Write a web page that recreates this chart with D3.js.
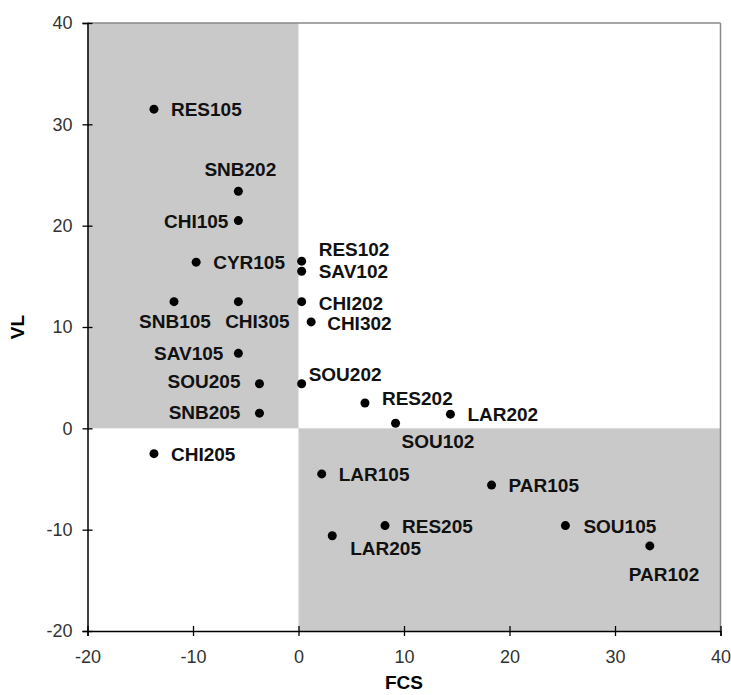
<!DOCTYPE html>
<html><head><meta charset="utf-8">
<script src="https://cdn.jsdelivr.net/npm/d3@7/dist/d3.min.js"></script>
<style>body{margin:0;background:#fff}</style>
</head><body>
<svg id="chart" width="731" height="695"></svg>
<script>
// ---- data ----
const names = ["RES105","SNB202","CHI105","CYR105","SNB105","CHI305","SAV105","SOU205","SNB205","CHI205",
               "RES102","SAV102","CHI202","CHI302","SOU202","RES202","LAR202","SOU102","LAR105","PAR105",
               "RES205","LAR205","SOU105","PAR102"];
const fcs = [-13.7,-5.7,-5.7,-9.7,-11.8,-5.7,-5.7,-3.7,-3.7,-13.7,
             0.3,0.3,0.3,1.2,0.3,6.3,14.4,9.2,2.2,18.3,
             8.2,3.2,25.3,33.3];
const vl = [31.5,23.4,20.5,16.4,12.5,12.5,7.4,4.4,1.5,-2.5,
            16.5,15.5,12.5,10.5,4.4,2.5,1.4,0.5,-4.5,-5.6,
            -9.6,-10.6,-9.6,-11.6];
const xTicks = [-20,-10,0,10,20,30,40];
const yTicks = [-20,-10,0,10,20,30,40];
const xTitle = "FCS", yTitle = "VL";

// ---- layout (label placement: anchor, dx, dy) ----
const labelPlacement = [
  ["start",17,7],["middle",2,-15],["end",-10,7],["start",17,7],["middle",1,26],["middle",19,26],
  ["end",-15,7],["end",-19,4],["end",-19,6],["start",17,7],
  ["start",17,-5],["start",17,7],["start",17,8],["start",16,8],["start",7,-3],["start",17,2],
  ["start",17,7],["start",6,25],["start",17,7],["start",17,7],
  ["start",17,7],["start",18,19],["start",18,7],["start",-21,35]
];

const svg = d3.select("#chart");
const L = 87.5, R = 720.5, T = 23, B = 631;
const x = d3.scaleLinear().domain([-20,40]).range([L,R]);
const y = d3.scaleLinear().domain([-20,40]).range([B,T]);

// shaded quadrants
svg.append("rect").attr("x",x(-20)).attr("y",y(40)).attr("width",x(0)-x(-20)).attr("height",y(0)-y(40)).attr("fill","#c9c9c9");
svg.append("rect").attr("x",x(0)).attr("y",y(0)).attr("width",x(40)-x(0)).attr("height",y(-20)-y(0)).attr("fill","#c9c9c9");

// plot border top/right
svg.append("line").attr("x1",L).attr("x2",R).attr("y1",T).attr("y2",T).attr("stroke","#8a8a8a").attr("stroke-width",1.5);
svg.append("line").attr("x1",R).attr("x2",R).attr("y1",T).attr("y2",B).attr("stroke","#8a8a8a").attr("stroke-width",1.5);

// axes
const fmt = d => String(d);
const xAxis = d3.axisBottom(x).tickValues(xTicks).tickSize(5).tickPadding(14).tickFormat(fmt);
const gx = svg.append("g").attr("transform",`translate(0,${B})`).call(xAxis);
gx.selectAll(".tick line").attr("y1",-5).attr("y2",5);
const yAxis = d3.axisLeft(y).tickValues(yTicks).tickSize(5).tickPadding(10).tickFormat(fmt);
const gy = svg.append("g").attr("transform",`translate(${L},0)`).call(yAxis);
gy.selectAll(".tick line").attr("x1",-5).attr("x2",5);
[gx,gy].forEach(g=>{
  g.select(".domain").attr("stroke","#000").attr("stroke-width",1.5);
  g.selectAll(".tick line").attr("stroke","#000").attr("stroke-width",1.3);
  g.selectAll(".tick text").attr("font-family","Liberation Sans, Arial, sans-serif").attr("font-size",18).attr("fill","#333");
});
gx.selectAll(".tick text").attr("dy","0.71em");

// axis titles
svg.append("text").attr("x",(L+R)/2).attr("y",689).attr("text-anchor","middle")
  .attr("font-family","Liberation Sans, Arial, sans-serif").attr("font-weight","bold").attr("font-size",19).text(xTitle);
svg.append("text").attr("transform",`translate(24,${(T+B)/2}) rotate(-90)`).attr("text-anchor","middle")
  .attr("font-family","Liberation Sans, Arial, sans-serif").attr("font-weight","bold").attr("font-size",19).text(yTitle);

// points
const pts = names.map((n,i)=>({name:n,fx:fcs[i],vy:vl[i],lp:labelPlacement[i]}));
svg.append("g").selectAll("circle").data(pts).join("circle")
  .attr("cx",d=>x(d.fx)).attr("cy",d=>y(d.vy)).attr("r",4.5).attr("fill","#000");
svg.append("g").selectAll("text").data(pts).join("text")
  .attr("x",d=>x(d.fx)+d.lp[1]).attr("y",d=>y(d.vy)+d.lp[2]).attr("text-anchor",d=>d.lp[0])
  .attr("font-family","Liberation Sans, Arial, sans-serif").attr("font-weight","bold").attr("font-size",19)
  .attr("fill","#111").text(d=>d.name);
</script>
</body></html>
